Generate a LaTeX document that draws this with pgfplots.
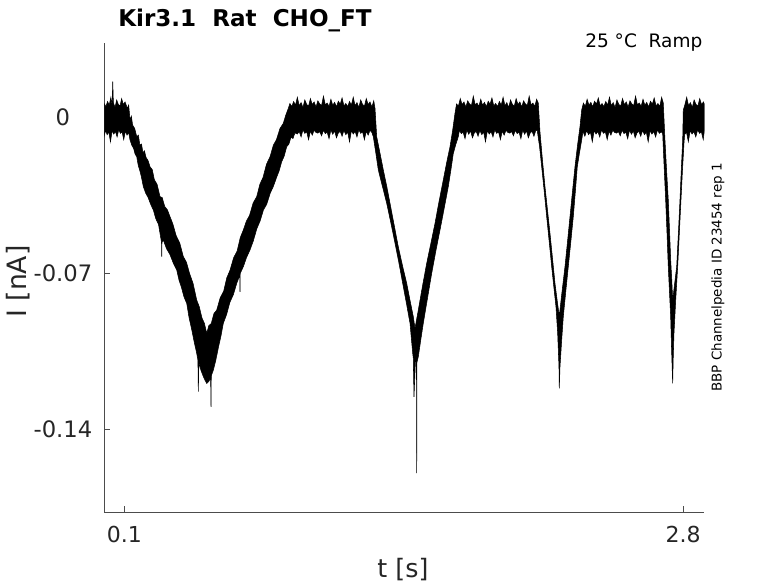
\documentclass[border=0pt]{standalone}
\usepackage{pgfplots}
\pgfplotsset{compat=1.18}
\usepackage{fontspec}
\setmainfont{DejaVu Sans}
\begin{document}
\begin{tikzpicture}
\useasboundingbox (-78.2pt,-53pt) rectangle (505.3pt,384.25pt);
\begin{axis}[
  at={(0,0)}, anchor=south west,
  scale only axis, width=450pt, height=352pt,
  xmin=0.003, xmax=2.902, ymin=-0.17724, ymax=0.03334,
  axis x line*=bottom, axis y line*=left,
  axis line style={draw=black!70, line width=0.6pt, -},
  tick style={draw=black!70, line width=0.6pt},
  tick align=inside, major tick length=4.5pt,
  xtick={0.1,2.8}, xticklabels={0.1,2.8},
  ytick={-0.14,-0.07,0}, yticklabels={-0.14,-0.07,0},
  xticklabel style={font=\fontsize{16.5}{19}\selectfont, text=black!85, anchor=north, inner sep=0pt, yshift=-10.5pt},
  yticklabel style={font=\fontsize{17}{20}\selectfont, text=black!85, anchor=center, inner sep=0pt, xshift=-31pt},
]
\addplot[draw=black, fill=black, line width=0.4pt] coordinates {
(0.003,0.0062) (0.011,0.0048) (0.019,0.0071) (0.027,0.0055) (0.035,0.0090) (0.041,0.0052) (0.044,0.0160) (0.047,0.0066) (0.055,0.0044) (0.063,0.0078) (0.071,0.0058) (0.079,0.0050) (0.087,0.0084) (0.095,0.0057) (0.1034,0.0069)
(0.1150,0.0040) (0.1210,0.0055) (0.1275,-0.0012) (0.1340,0.0005) (0.1400,-0.0035) (0.1500,-0.0050) (0.1599,-0.0087) (0.1680,-0.0080) (0.1750,-0.0125) (0.1830,-0.0120) (0.1900,-0.0160) (0.1970,-0.0150) (0.2050,-0.0180) (0.2150,-0.0195) (0.2242,-0.0222) (0.2350,-0.0235) (0.2450,-0.0280) (0.2580,-0.0300) (0.2724,-0.0356) (0.2830,-0.0360) (0.2950,-0.0400) (0.3080,-0.0415) (0.3208,-0.0446) (0.3350,-0.0480) (0.3500,-0.0530) (0.3680,-0.0565) (0.3850,-0.0625) (0.4000,-0.0650) (0.4150,-0.0700) (0.4320,-0.0745) (0.4497,-0.0820) (0.4620,-0.0850) (0.4750,-0.0900) (0.4870,-0.0925) (0.4981,-0.0969)
(0.5080,-0.0935) (0.5200,-0.0925) (0.5330,-0.0880) (0.5463,-0.0865) (0.5630,-0.0810) (0.5800,-0.0780) (0.5950,-0.0720) (0.6106,-0.0686) (0.6280,-0.0630) (0.6450,-0.0600) (0.6600,-0.0540) (0.6748,-0.0506) (0.6900,-0.0465) (0.7050,-0.0440) (0.7220,-0.0385) (0.7396,-0.0356) (0.7550,-0.0300) (0.7700,-0.0270) (0.7870,-0.0210) (0.8039,-0.0177) (0.8200,-0.0125) (0.8350,-0.0100) (0.8520,-0.0050) (0.8681,-0.0027) (0.8800,0.0010) (0.8923,0.0040)
(0.900,0.0062) (0.909,0.0048) (0.918,0.0071) (0.927,0.0055) (0.936,0.0090) (0.945,0.0052) (0.954,0.0066) (0.963,0.0044) (0.972,0.0078) (0.981,0.0058) (0.990,0.0050) (0.999,0.0084) (1.008,0.0057) (1.017,0.0069) (1.026,0.0046) (1.035,0.0074) (1.044,0.0060) (1.053,0.0053) (1.062,0.0095) (1.071,0.0056) (1.080,0.0064) (1.089,0.0049) (1.098,0.0081) (1.107,0.0054) (1.116,0.0067) (1.125,0.0047) (1.134,0.0072) (1.143,0.0059) (1.152,0.0087) (1.161,0.0051) (1.170,0.0062) (1.179,0.0048) (1.188,0.0071) (1.197,0.0055) (1.206,0.0090) (1.215,0.0052) (1.224,0.0066) (1.233,0.0044) (1.242,0.0078) (1.251,0.0058) (1.260,0.0050) (1.269,0.0084) (1.278,0.0057) (1.287,0.0069) (1.296,0.0046) (1.305,0.0074) (1.3111,0.0040)
(1.3193,-0.0087) (1.3350,-0.0160) (1.3512,-0.0236) (1.3680,-0.0310) (1.3836,-0.0386) (1.4050,-0.0490) (1.4237,-0.0581) (1.4450,-0.0670) (1.4643,-0.0745) (1.4800,-0.0820) (1.4962,-0.0895) (1.5044,-0.0947) (1.5203,-0.0865) (1.5400,-0.0760) (1.5609,-0.0655) (1.5800,-0.0570) (1.6010,-0.0476) (1.6200,-0.0380) (1.6411,-0.0281) (1.6580,-0.0200) (1.6735,-0.0132) (1.6860,-0.0060) (1.6976,0.0018) (1.7050,0.0060)
(1.714,0.0050) (1.723,0.0084) (1.732,0.0057) (1.741,0.0069) (1.750,0.0046) (1.759,0.0074) (1.768,0.0060) (1.777,0.0053) (1.786,0.0095) (1.795,0.0056) (1.804,0.0064) (1.813,0.0049) (1.822,0.0081) (1.831,0.0054) (1.840,0.0067) (1.849,0.0047) (1.858,0.0072) (1.867,0.0059) (1.876,0.0087) (1.885,0.0051) (1.894,0.0062) (1.903,0.0048) (1.912,0.0071) (1.921,0.0055) (1.930,0.0090) (1.939,0.0052) (1.948,0.0066) (1.957,0.0044) (1.966,0.0078) (1.975,0.0058) (1.984,0.0050) (1.993,0.0084) (2.002,0.0057) (2.011,0.0069) (2.020,0.0046) (2.029,0.0074) (2.038,0.0060) (2.047,0.0053) (2.056,0.0095) (2.065,0.0056) (2.074,0.0064) (2.083,0.0049) (2.092,0.0081) (2.1000,0.0064)
(2.1082,-0.0065) (2.1200,-0.0190) (2.1324,-0.0311) (2.1450,-0.0420) (2.1565,-0.0520) (2.1690,-0.0635) (2.1807,-0.0745) (2.1910,-0.0820) (2.2015,-0.0892) (2.2150,-0.0780) (2.2290,-0.0670) (2.2410,-0.0560) (2.2532,-0.0446) (2.2650,-0.0335) (2.2773,-0.0222) (2.2890,-0.0130) (2.3015,-0.0042) (2.3097,0.0033)
(2.318,0.0064) (2.327,0.0049) (2.336,0.0081) (2.345,0.0054) (2.354,0.0067) (2.363,0.0047) (2.372,0.0072) (2.381,0.0059) (2.390,0.0087) (2.399,0.0051) (2.408,0.0062) (2.417,0.0048) (2.426,0.0071) (2.435,0.0055) (2.444,0.0090) (2.453,0.0052) (2.462,0.0066) (2.471,0.0044) (2.480,0.0078) (2.489,0.0058) (2.498,0.0050) (2.507,0.0084) (2.516,0.0057) (2.525,0.0069) (2.534,0.0046) (2.543,0.0074) (2.552,0.0060) (2.561,0.0053) (2.570,0.0095) (2.579,0.0056) (2.588,0.0064) (2.597,0.0049) (2.606,0.0081) (2.615,0.0054) (2.624,0.0067) (2.633,0.0047) (2.642,0.0072) (2.651,0.0059) (2.660,0.0087) (2.669,0.0051) (2.678,0.0062) (2.687,0.0048) (2.696,0.0090) (2.7039,0.0064)
(2.7121,-0.0102) (2.7200,-0.0240) (2.7281,-0.0371) (2.7340,-0.0505) (2.7397,-0.0640) (2.7450,-0.0730) (2.7493,-0.0820) (2.7590,-0.0745) (2.7687,-0.0670) (2.7770,-0.0520) (2.7846,-0.0371) (2.7910,-0.0235) (2.7977,-0.0102) (2.8006,0.0033)
(2.808,0.0055) (2.817,0.0090) (2.826,0.0052) (2.835,0.0066) (2.844,0.0044) (2.853,0.0078) (2.862,0.0058) (2.871,0.0050) (2.880,0.0084) (2.889,0.0057) (2.898,0.0069) (2.902,0.0060)
(2.902,-0.0062) (2.897,-0.0100) (2.888,-0.0065) (2.879,-0.0072) (2.870,-0.0056) (2.861,-0.0088) (2.852,-0.0064) (2.843,-0.0075) (2.834,-0.0060) (2.825,-0.0110) (2.816,-0.0066) (2.807,-0.0078)
(2.8039,-0.0117) (2.7965,-0.0240) (2.7894,-0.0371) (2.7815,-0.0520) (2.7735,-0.0670) (2.7640,-0.0820) (2.7556,-0.0969) (2.7520,-0.1080) (2.7493,-0.1194) (2.7440,-0.1040) (2.7397,-0.0895) (2.7340,-0.0785) (2.7281,-0.0670) (2.7220,-0.0520) (2.7155,-0.0371) (2.7080,-0.0220) (2.7010,-0.0072)
(2.694,-0.0065) (2.685,-0.0072) (2.676,-0.0056) (2.667,-0.0088) (2.658,-0.0064) (2.649,-0.0075) (2.640,-0.0060) (2.631,-0.0110) (2.622,-0.0066) (2.613,-0.0078) (2.604,-0.0059) (2.595,-0.0085) (2.586,-0.0063) (2.577,-0.0070) (2.568,-0.0092) (2.559,-0.0061) (2.550,-0.0076) (2.541,-0.0057) (2.532,-0.0096) (2.523,-0.0067) (2.514,-0.0073) (2.505,-0.0058) (2.496,-0.0083) (2.487,-0.0064) (2.478,-0.0071) (2.469,-0.0068) (2.460,-0.0058) (2.451,-0.0080) (2.442,-0.0062) (2.433,-0.0100) (2.424,-0.0065) (2.415,-0.0072) (2.406,-0.0056) (2.397,-0.0088) (2.388,-0.0064) (2.379,-0.0075) (2.370,-0.0060) (2.361,-0.0110) (2.352,-0.0066) (2.343,-0.0078) (2.334,-0.0059) (2.325,-0.0085) (2.316,-0.0063)
(2.3097,-0.0102) (2.2990,-0.0160) (2.2884,-0.0222) (2.2790,-0.0335) (2.2691,-0.0446) (2.2570,-0.0560) (2.2450,-0.0670) (2.2330,-0.0780) (2.2208,-0.0895) (2.2130,-0.1000) (2.2049,-0.1119) (2.2015,-0.1216) (2.2000,-0.1119) (2.1937,-0.0969) (2.1855,-0.0850) (2.1750,-0.0760) (2.1647,-0.0670) (2.1530,-0.0560) (2.1406,-0.0446) (2.1290,-0.0335) (2.1164,-0.0222) (2.1060,-0.0130) (2.0952,-0.0060)
(2.088,-0.0059) (2.079,-0.0085) (2.070,-0.0063) (2.061,-0.0070) (2.052,-0.0092) (2.043,-0.0061) (2.034,-0.0076) (2.025,-0.0057) (2.016,-0.0096) (2.007,-0.0067) (1.998,-0.0073) (1.989,-0.0058) (1.980,-0.0083) (1.971,-0.0064) (1.962,-0.0071) (1.953,-0.0068) (1.944,-0.0058) (1.935,-0.0080) (1.926,-0.0062) (1.917,-0.0100) (1.908,-0.0065) (1.899,-0.0072) (1.890,-0.0056) (1.881,-0.0088) (1.872,-0.0064) (1.863,-0.0075) (1.854,-0.0060) (1.845,-0.0110) (1.836,-0.0066) (1.827,-0.0078) (1.818,-0.0059) (1.809,-0.0085) (1.800,-0.0063) (1.791,-0.0070) (1.782,-0.0092) (1.773,-0.0061) (1.764,-0.0076) (1.755,-0.0057) (1.746,-0.0096) (1.737,-0.0067) (1.728,-0.0073) (1.719,-0.0058)
(1.7136,-0.0087) (1.7020,-0.0120) (1.6894,-0.0162) (1.6780,-0.0235) (1.6652,-0.0311) (1.6450,-0.0410) (1.6251,-0.0506) (1.6050,-0.0600) (1.5850,-0.0700) (1.5650,-0.0810) (1.5444,-0.0924) (1.5320,-0.1000) (1.5203,-0.1074) (1.5137,-0.1100) (1.5126,-0.1597) (1.5115,-0.1100) (1.5068,-0.1089) (1.4995,-0.1254) (1.4960,-0.1080) (1.4933,-0.1059) (1.4802,-0.0924) (1.4640,-0.0840) (1.4479,-0.0760) (1.4280,-0.0660) (1.4078,-0.0565) (1.3880,-0.0475) (1.3677,-0.0386) (1.3470,-0.0310) (1.3271,-0.0236) (1.3150,-0.0160) (1.3029,-0.0087)
(1.296,-0.0068) (1.287,-0.0058) (1.278,-0.0080) (1.269,-0.0062) (1.260,-0.0100) (1.251,-0.0065) (1.242,-0.0072) (1.233,-0.0056) (1.224,-0.0088) (1.215,-0.0064) (1.206,-0.0075) (1.197,-0.0060) (1.188,-0.0110) (1.179,-0.0066) (1.170,-0.0078) (1.161,-0.0059) (1.152,-0.0085) (1.143,-0.0063) (1.134,-0.0070) (1.125,-0.0092) (1.116,-0.0061) (1.107,-0.0076) (1.098,-0.0057) (1.089,-0.0096) (1.080,-0.0067) (1.071,-0.0073) (1.062,-0.0058) (1.053,-0.0083) (1.044,-0.0064) (1.035,-0.0071) (1.026,-0.0068) (1.017,-0.0058) (1.008,-0.0080) (0.999,-0.0062) (0.990,-0.0100) (0.981,-0.0065) (0.972,-0.0072) (0.963,-0.0056) (0.954,-0.0088) (0.945,-0.0064) (0.936,-0.0075)
(0.9242,-0.0070) (0.9150,-0.0095) (0.9050,-0.0090) (0.8950,-0.0120) (0.8845,-0.0132) (0.8720,-0.0175) (0.8600,-0.0200) (0.8480,-0.0240) (0.8367,-0.0267) (0.8200,-0.0310) (0.8050,-0.0340) (0.7880,-0.0390) (0.7720,-0.0416) (0.7560,-0.0465) (0.7400,-0.0500) (0.7230,-0.0555) (0.7072,-0.0595) (0.6900,-0.0630) (0.6750,-0.0670) (0.6600,-0.0700) (0.6589,-0.0783) (0.6575,-0.0710) (0.6430,-0.0745) (0.6270,-0.0795) (0.6100,-0.0830) (0.5940,-0.0885) (0.5783,-0.0924) (0.5660,-0.0985) (0.5550,-0.1030) (0.5420,-0.1090) (0.5300,-0.1134) (0.5200,-0.1160) (0.5188,-0.1299) (0.5170,-0.1170) (0.5080,-0.1185) (0.4981,-0.1194) (0.4900,-0.1180) (0.4820,-0.1164) (0.4700,-0.1135) (0.4600,-0.1100) (0.4575,-0.1231) (0.4555,-0.1090) (0.4497,-0.1059) (0.4380,-0.1010) (0.4250,-0.0950) (0.4130,-0.0900) (0.4014,-0.0835) (0.3880,-0.0805) (0.3750,-0.0760) (0.3640,-0.0730) (0.3531,-0.0685) (0.3370,-0.0655) (0.3200,-0.0615) (0.3040,-0.0590) (0.2884,-0.0551) (0.2820,-0.0560) (0.2807,-0.0625) (0.2795,-0.0560) (0.2650,-0.0480) (0.2520,-0.0455) (0.2401,-0.0416) (0.2270,-0.0390) (0.2150,-0.0360) (0.2030,-0.0340) (0.1918,-0.0311) (0.1830,-0.0270) (0.1750,-0.0240) (0.1670,-0.0215) (0.1599,-0.0177) (0.1520,-0.0165) (0.1450,-0.0140) (0.1360,-0.0125) (0.1275,-0.0102)
(0.121,-0.0068) (0.113,-0.0080) (0.105,-0.0062) (0.097,-0.0100) (0.089,-0.0065) (0.081,-0.0072) (0.073,-0.0056) (0.065,-0.0088) (0.057,-0.0064) (0.049,-0.0075) (0.041,-0.0060) (0.033,-0.0110) (0.025,-0.0066) (0.017,-0.0078) (0.009,-0.0059) (0.003,-0.0085)
} -- cycle;
\end{axis}
\node[anchor=base west, inner sep=0pt, font=\bfseries\fontsize{17.3}{20}\selectfont] at (10.3pt,364.2pt) {Kir3.1~~Rat~~CHO\_FT};
\node[anchor=base east, inner sep=0pt, font=\fontsize{13.9}{16}\selectfont] at (448.8pt,348.5pt) {25 °C~~Ramp};
\node[rotate=90, anchor=base, inner sep=0pt, font=\fontsize{10.1}{12}\selectfont] at (463.05pt,176.1pt) {BBP Channelpedia ID 23454 rep 1};
\node[rotate=90, anchor=base, inner sep=0pt, text=black!85, font=\fontsize{20}{24}\selectfont] at (-58pt,173.1pt) {I [nA]};
\node[anchor=base, inner sep=0pt, text=black!85, font=\fontsize{19}{23}\selectfont] at (224pt,-48.5pt) {t [s]};
\end{tikzpicture}
\end{document}
